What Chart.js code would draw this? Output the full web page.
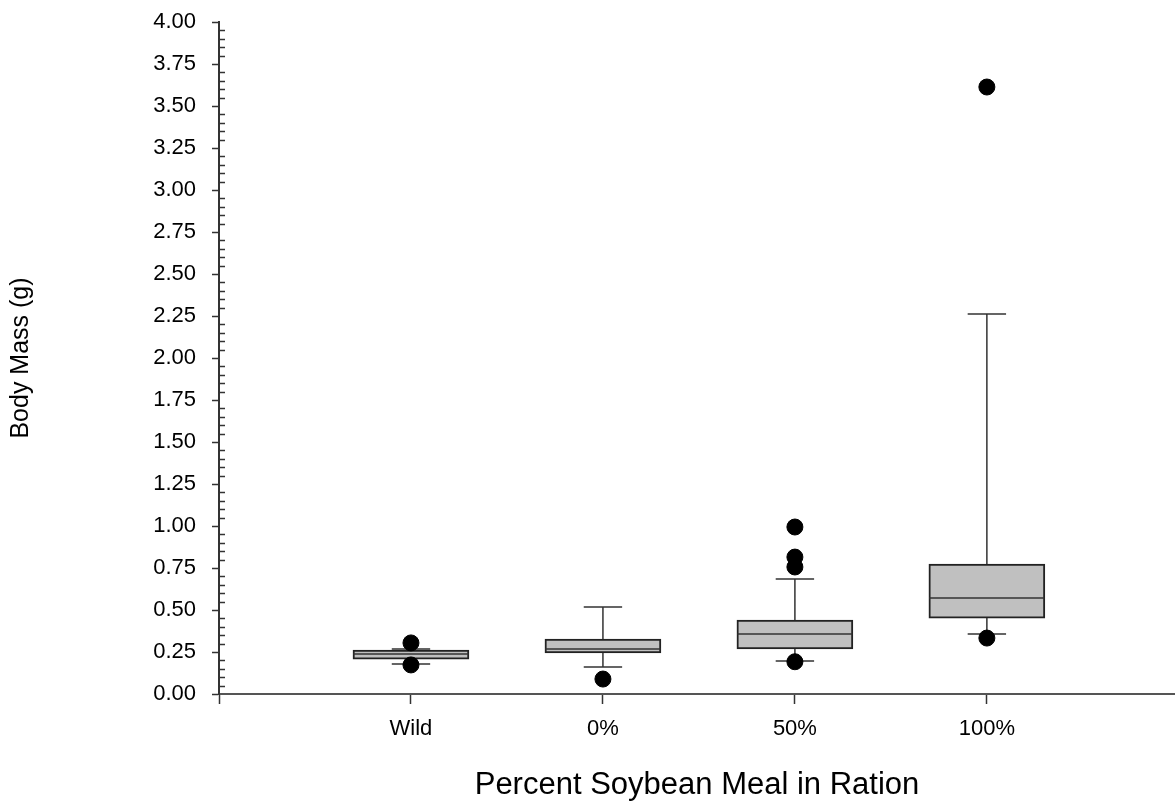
<!DOCTYPE html>
<html>
<head>
<meta charset="utf-8">
<script src="https://cdn.jsdelivr.net/npm/chart.js@4"></script>
<style>
    body { margin: 0; background: #fff; }
    #wrap { width: 1175px; height: 804px; }
</style>
</head>
<body>
<div id="wrap"><canvas id="massChart"></canvas></div>
<script>
const groups = ["Wild", "0%", "50%", "100%"];
const lowWhisker = [0.179, 0.161, 0.196, 0.357];
const q1 = [0.208, 0.244, 0.268, 0.452];
const median = [0.238, 0.268, 0.357, 0.571];
const q3 = [0.262, 0.327, 0.440, 0.774];
const highWhisker = [0.268, 0.518, 0.685, 2.262];
const outliers = [
    [0.304, 0.173],
    [0.089],
    [0.192, 0.756, 0.815, 0.994],
    [0.333, 3.613]
];
const yTicks = [0, 0.25, 0.5, 0.75, 1, 1.25, 1.5, 1.75, 2, 2.25, 2.5, 2.75, 3, 3.25, 3.5, 3.75, 4];

const axisColor = "#333";
const capHalf = 0.1;
const medHalf = 0.3;

// boxes as floating bars
const boxData = groups.map((g, i) => ({ x: i + 1, y: [q1[i], q3[i]] }));

// whiskers, caps and medians as broken line segments
const lineData = [];
groups.forEach((g, i) => {
    const c = i + 1;
    lineData.push({ x: c, y: q3[i] }, { x: c, y: highWhisker[i] }, { x: c, y: null });
    lineData.push({ x: c - capHalf, y: highWhisker[i] }, { x: c + capHalf, y: highWhisker[i] }, { x: c, y: null });
    lineData.push({ x: c, y: q1[i] }, { x: c, y: lowWhisker[i] }, { x: c, y: null });
    lineData.push({ x: c - capHalf, y: lowWhisker[i] }, { x: c + capHalf, y: lowWhisker[i] }, { x: c, y: null });
    lineData.push({ x: c - medHalf, y: median[i] }, { x: c + medHalf, y: median[i] }, { x: c, y: null });
});

const outlierData = [];
outliers.forEach((list, i) => {
    list.forEach(v => outlierData.push({ x: i + 1, y: v }));
});

const minorTicks = {
    id: "minorTicks",
    afterDraw(chart) {
        const ctx = chart.ctx;
        const y = chart.scales.y;
        const left = chart.chartArea.left;
        ctx.save();
        ctx.strokeStyle = axisColor;
        ctx.lineWidth = 1.5;
        for (let i = 0; i <= 80; i++) {
            if (i % 5 === 0) continue;
            const py = Math.round(y.getPixelForValue(i * 0.05)) + 0.5;
            ctx.beginPath();
            ctx.moveTo(left, py);
            ctx.lineTo(left + 6, py);
            ctx.stroke();
        }
        ctx.restore();
    }
};

const canvas = document.getElementById("massChart");
const chart = new Chart(canvas, {
    type: "bar",
    data: {
        datasets: [
            {
                type: "scatter",
                data: outlierData,
                backgroundColor: "#000",
                borderColor: "#000",
                pointRadius: 8,
                order: 1
            },
            {
                type: "line",
                data: lineData,
                borderColor: axisColor,
                borderWidth: 1.5,
                pointRadius: 0,
                spanGaps: false,
                order: 2
            },
            {
                type: "bar",
                data: boxData,
                backgroundColor: "#c0c0c0",
                borderColor: "#222",
                borderWidth: 2,
                borderSkipped: false,
                barThickness: 116,
                order: 3
            }
        ]
    },
    options: {
        responsive: true,
        maintainAspectRatio: false,
        animation: false,
        layout: { autoPadding: false, padding: { top: 22, right: 0, left: 0, bottom: 0 } },
        plugins: {
            legend: { display: false },
            tooltip: { enabled: false }
        },
        scales: {
            x: {
                type: "linear",
                min: 0,
                max: 4.98,
                offset: false,
                afterBuildTicks: scale => {
                    scale.ticks = [0, 1, 2, 3, 4].map(v => ({ value: v }));
                },
                afterFit: scale => {
                    scale.height = 110;
                    scale.paddingLeft = 0;
                    scale.paddingRight = 0;
                },
                ticks: {
                    autoSkip: false,
                    maxRotation: 0,
                    padding: 12,
                    color: "#000",
                    font: { family: "Liberation Sans", size: 22 },
                    callback: v => groups[v - 1] || ""
                },
                grid: {
                    offset: false,
                    drawOnChartArea: false,
                    tickLength: 10,
                    tickWidth: 1.5,
                    tickColor: axisColor
                },
                border: { color: "#555", width: 2 },
                title: {
                    display: true,
                    text: "Percent Soybean Meal in Ration",
                    color: "#000",
                    font: { family: "Liberation Sans", size: 31 },
                    padding: { top: 0, bottom: 0 }
                }
            },
            y: {
                min: 0,
                max: 4,
                afterBuildTicks: scale => {
                    scale.ticks = yTicks.map(v => ({ value: v }));
                },
                afterFit: scale => {
                    scale.width = 219;
                    scale.paddingTop = 0;
                    scale.paddingBottom = 0;
                },
                ticks: {
                    padding: 16,
                    color: "#000",
                    font: { family: "Liberation Sans", size: 22 },
                    callback: v => v.toFixed(2)
                },
                grid: {
                    drawOnChartArea: false,
                    tickLength: 7,
                    tickWidth: 1.5,
                    tickColor: axisColor
                },
                border: { color: axisColor, width: 2 },
                title: {
                    display: true,
                    text: "Body Mass (g)",
                    color: "#000",
                    font: { family: "Liberation Sans", size: 25 },
                    padding: { top: 6, bottom: 0 }
                }
            }
        }
    },
    plugins: [minorTicks]
});
</script>
</body>
</html>
